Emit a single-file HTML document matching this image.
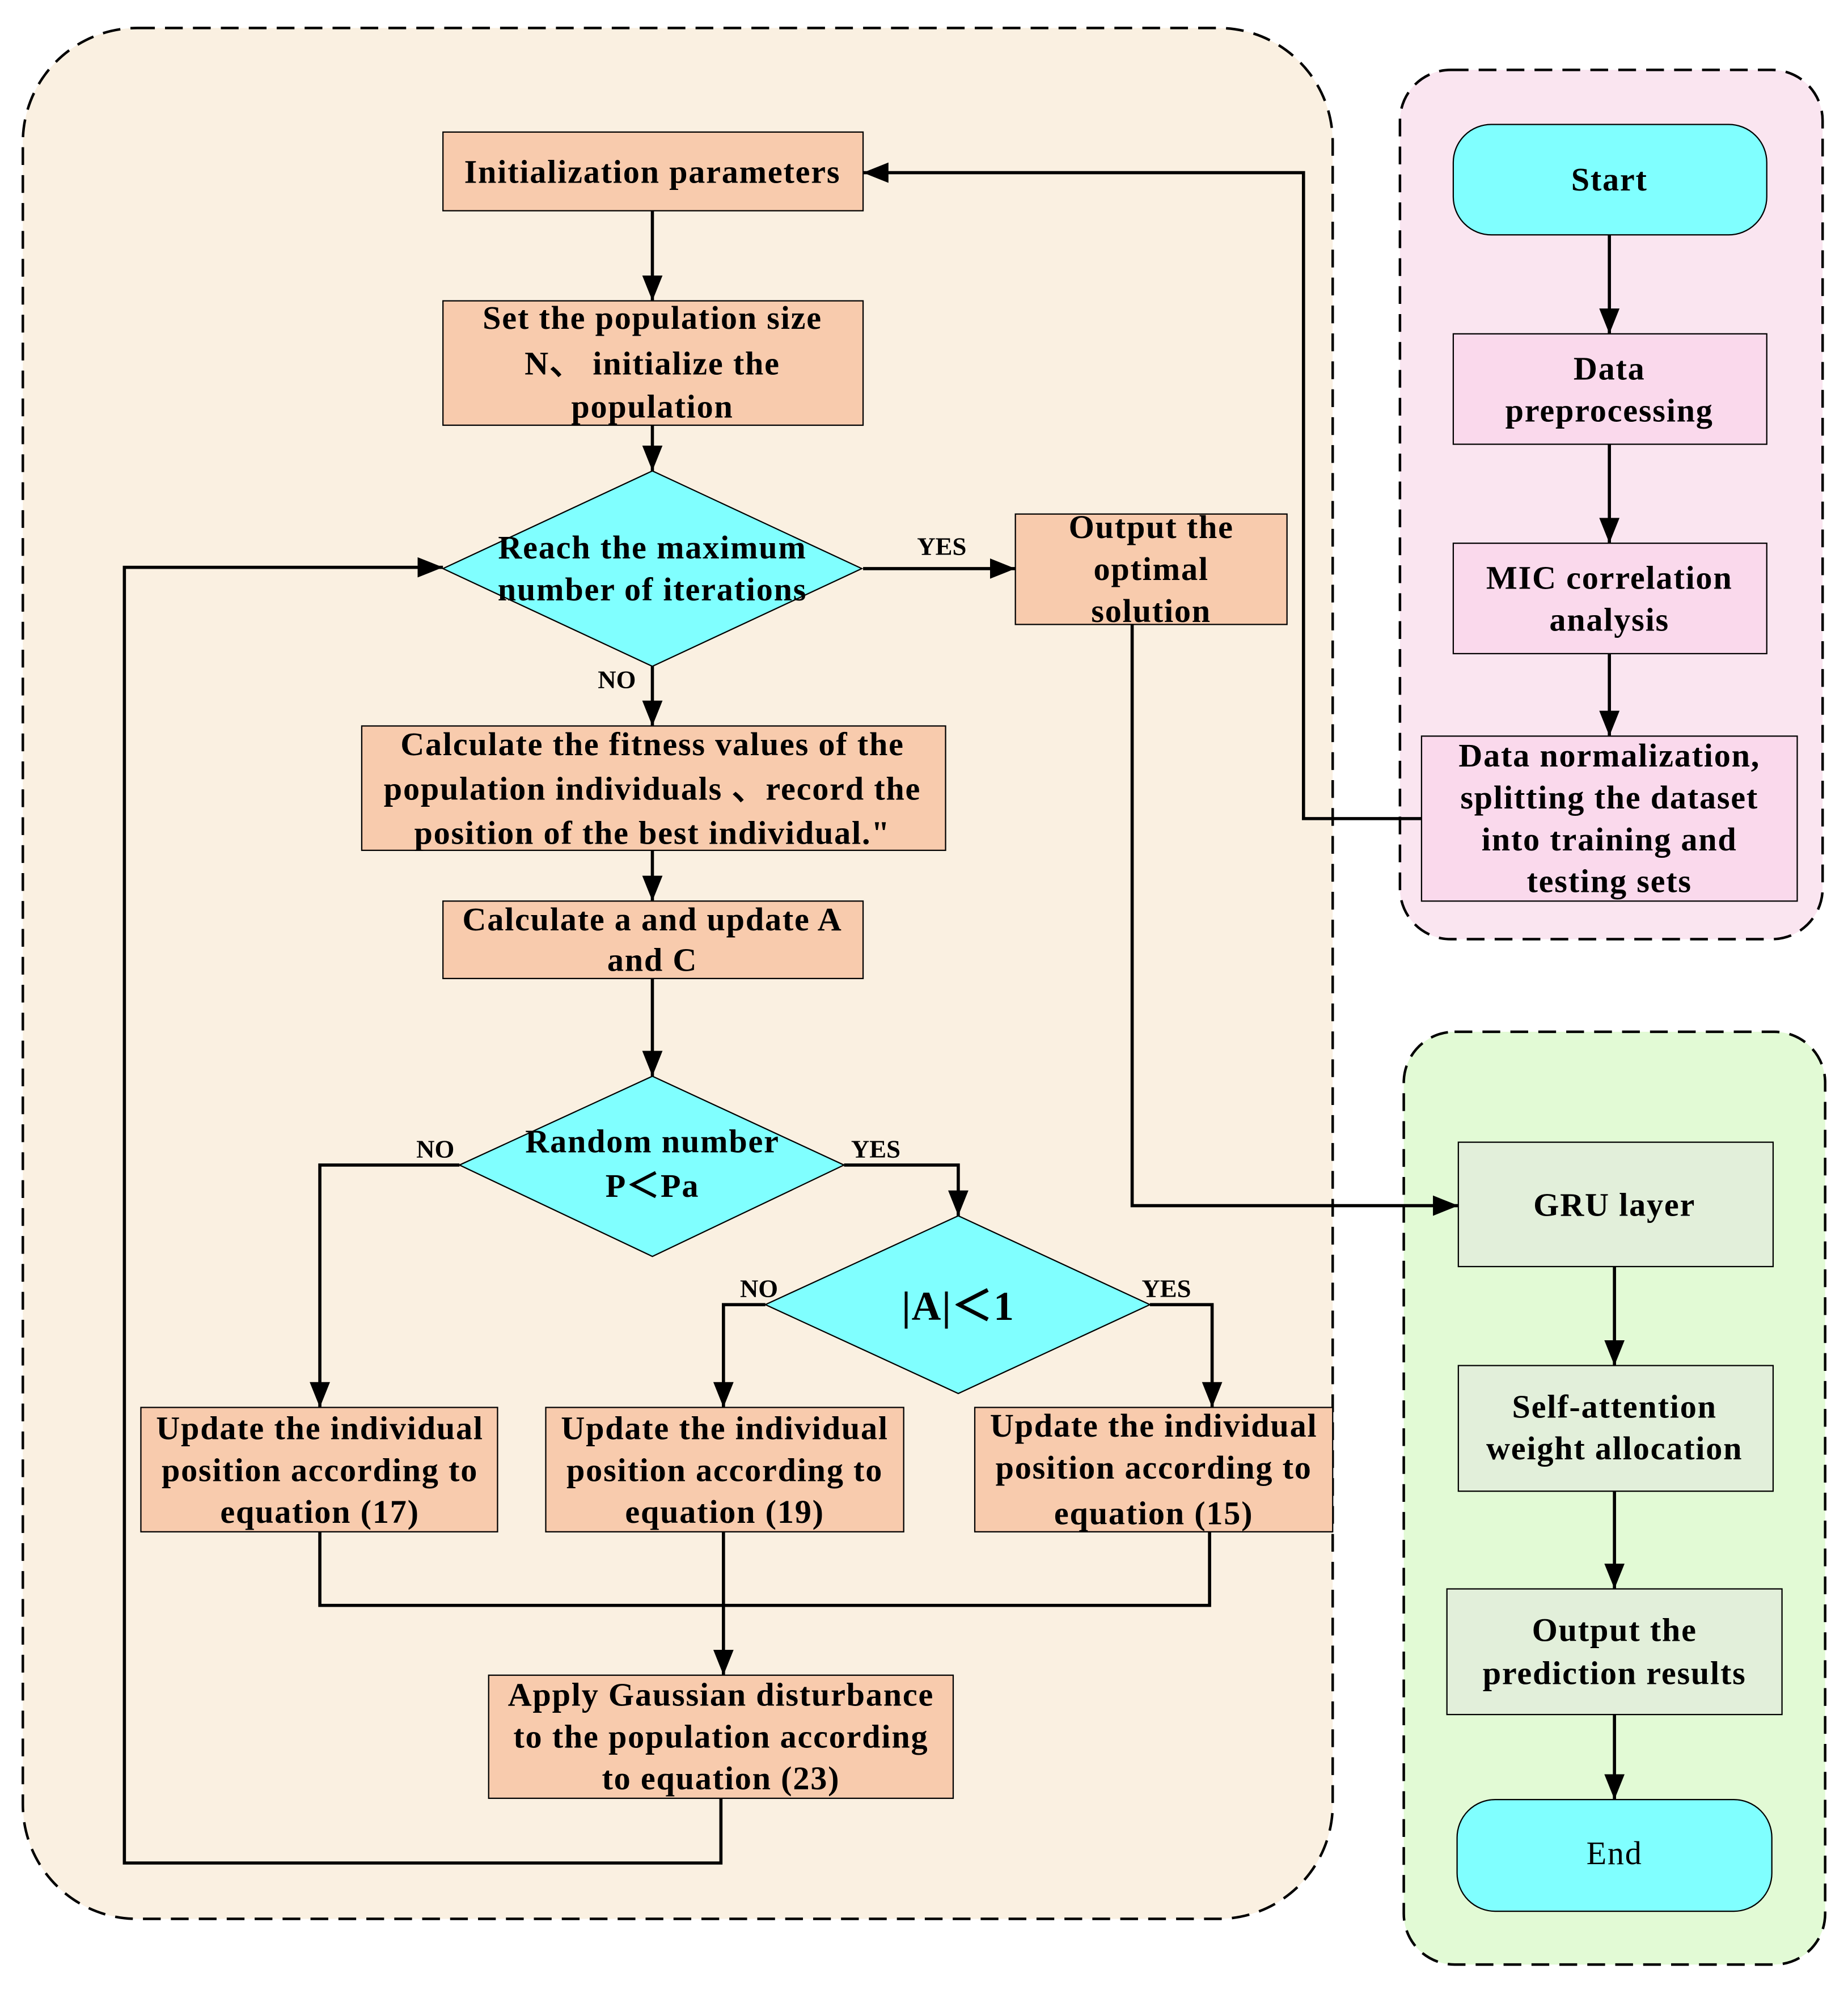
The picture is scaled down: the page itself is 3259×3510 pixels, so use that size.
<!DOCTYPE html>
<html><head><meta charset="utf-8"><style>html,body{margin:0;padding:0;background:#fff}svg{display:block}</style></head><body>
<svg width="3259" height="3510" viewBox="0 0 1456 1568" xmlns="http://www.w3.org/2000/svg" font-family="'Liberation Serif', serif" font-weight="bold" font-size="26" letter-spacing="0.8">
<defs><marker id="b" viewBox="0 0 10 10" refX="10" refY="5" markerWidth="20" markerHeight="20" orient="auto" markerUnits="userSpaceOnUse"><path d="M0,1L10,5L0,9z" fill="#000"/></marker></defs>
<rect x="18" y="22" width="1032" height="1490" rx="90" fill="#FAF0E1" stroke="#000" stroke-width="2" stroke-dasharray="14,8"/>
<rect x="1103" y="55" width="333" height="685" rx="40" fill="#FAE5F0" stroke="#000" stroke-width="2" stroke-dasharray="14,8"/>
<rect x="1106" y="813" width="332" height="735" rx="40" fill="#E2FAD5" stroke="#000" stroke-width="2" stroke-dasharray="14,8"/>
<g stroke="#000" stroke-width="1">
<rect x="1145" y="98" width="247" height="87" rx="30" fill="#80FFFF"/>
<rect x="1145" y="263" width="247" height="87" fill="#FAD9EC"/>
<rect x="1145" y="428" width="247" height="87" fill="#FAD9EC"/>
<rect x="1120" y="580" width="296" height="130" fill="#FAD9EC"/>
<rect x="1149" y="900" width="248" height="98" fill="#E2EFDA"/>
<rect x="1149" y="1076" width="248" height="99" fill="#E2EFDA"/>
<rect x="1140" y="1252" width="264" height="99" fill="#E2EFDA"/>
<rect x="1148" y="1418" width="248" height="88" rx="30" fill="#80FFFF"/>
<rect x="349" y="104" width="331" height="62" fill="#F8CBAD"/>
<rect x="349" y="237" width="331" height="98" fill="#F8CBAD"/>
<polygon points="349,448 514,371 679,448 514,525" fill="#80FFFF"/>
<rect x="800" y="405" width="214" height="87" fill="#F8CBAD"/>
<rect x="285" y="572" width="460" height="98" fill="#F8CBAD"/>
<rect x="349" y="710" width="331" height="61" fill="#F8CBAD"/>
<polygon points="362,918 514,848 665,918 514,990" fill="#80FFFF"/>
<polygon points="603,1028 755,958 906,1028 755,1098" fill="#80FFFF"/>
<rect x="111" y="1109" width="281" height="98" fill="#F8CBAD"/>
<rect x="430" y="1109" width="282" height="98" fill="#F8CBAD"/>
<rect x="768" y="1109" width="282" height="98" fill="#F8CBAD"/>
<rect x="385" y="1320" width="366" height="97" fill="#F8CBAD"/>
</g>
<g stroke="#000" stroke-width="2.5" fill="none" marker-end="url(#b)">
<path d="M1268,185V263"/><path d="M1268,350V428"/><path d="M1268,515V580"/>
<path d="M1272,998V1076"/><path d="M1272,1175V1252"/><path d="M1272,1351V1418"/>
<path d="M514,166V237"/><path d="M514,335V371"/><path d="M680,448H800"/>
<path d="M514,525V572"/><path d="M514,670V710"/><path d="M514,771V848"/>
<path d="M362,918H252V1109"/><path d="M665,918H755V958"/>
<path d="M603,1028H570V1109"/><path d="M906,1028H955V1109"/>
<path d="M570,1207V1320"/>
<path d="M568,1417V1468H98V447H349"/>
<path d="M892,492V950H1149"/>
<path d="M1120,645H1027V136H680"/>
</g>
<path d="M252,1207V1265H953V1207" stroke="#000" stroke-width="2.5" fill="none"/>
<g text-anchor="middle">
<text x="1268" y="150">Start</text>
<text x="1268" y="299">Data</text><text x="1268" y="332">preprocessing</text>
<text x="1268" y="464">MIC  correlation</text><text x="1268" y="497">analysis</text>
<text x="1268" y="604">Data normalization,</text><text x="1268" y="637">splitting the dataset</text><text x="1268" y="670">into training and</text><text x="1268" y="703">testing sets</text>
<text x="1272" y="958">GRU layer</text>
<text x="1272" y="1117">Self-attention</text><text x="1272" y="1150">weight allocation</text>
<text x="1272" y="1293">Output the</text><text x="1272" y="1327">prediction results</text>
<text x="1272" y="1469" font-weight="normal">End</text>
<text x="514" y="144">Initialization parameters</text>
<text x="514" y="259">Set the population size</text><text x="514" y="295">N、  initialize the</text><text x="514" y="329">population</text>
<text x="514" y="440">Reach the maximum</text><text x="514" y="473">number of iterations</text>
<text x="907" y="424">Output the</text><text x="907" y="457">optimal</text><text x="907" y="490">solution</text>
<text x="514" y="595">Calculate the fitness values of the</text><text x="514" y="630">population individuals 、record the</text><text x="514" y="665">position of the best individual."</text>
<text x="514" y="733">Calculate a and update A</text><text x="514" y="765">and C</text>
<text x="514" y="908">Random number</text><text x="514" y="943">P＜Pa</text>
<text x="755" y="1040" font-size="32">|A|＜1</text>
<text x="252" y="1134">Update the individual</text><text x="252" y="1167">position according to</text><text x="252" y="1200">equation (17)</text>
<text x="571" y="1134">Update the individual</text><text x="571" y="1167">position according to</text><text x="571" y="1200">equation (19)</text>
<text x="909" y="1132">Update the individual</text><text x="909" y="1165">position according to</text><text x="909" y="1201">equation (15)</text>
<text x="568" y="1344">Apply Gaussian disturbance</text><text x="568" y="1377">to the population according</text><text x="568" y="1410">to equation (23)</text>
<g font-size="20" letter-spacing="0"><text x="742" y="437">YES</text><text x="486" y="542">NO</text><text x="343" y="912">NO</text><text x="690" y="912">YES</text><text x="598" y="1022">NO</text><text x="919" y="1022">YES</text></g>
</g>
</svg>
</body></html>
